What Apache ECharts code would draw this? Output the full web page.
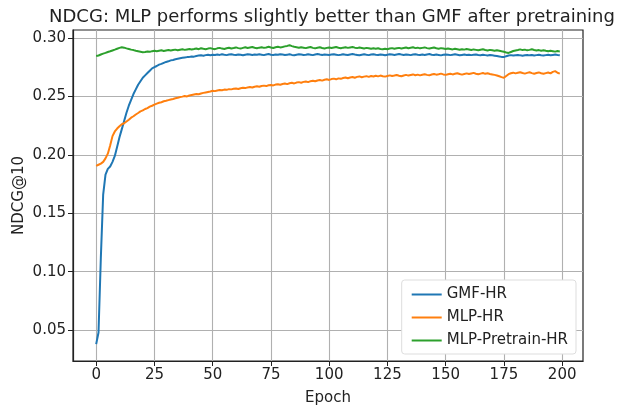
<!DOCTYPE html>
<html>
<head>
<meta charset="utf-8">
<script src="https://cdn.jsdelivr.net/npm/echarts@6/dist/echarts.min.js"></script>
<style>
  html, body { margin: 0; padding: 0; background: #fff; }
  #chart { width: 618px; height: 411px; }
</style>
</head>
<body>
<div id="chart"></div>
<script>
// tick labels
var xTicks = [0, 25, 50, 75, 100, 125, 150, 175, 200];
var yTicks = [0.05, 0.10, 0.15, 0.20, 0.25, 0.30];

var seriesNames = ['GMF-HR', 'MLP-HR', 'MLP-Pretrain-HR'];

// GMF-HR, epochs 0..199
var gmfHR = [
    0.038, 0.048, 0.112, 0.166, 0.183, 0.188, 0.190, 0.194, 0.199, 0.207,
    0.215, 0.222, 0.229, 0.236, 0.242, 0.247, 0.252, 0.256, 0.260, 0.263,
    0.266, 0.268, 0.270, 0.272, 0.274, 0.275, 0.276, 0.2772, 0.2778, 0.2787,
    0.2795, 0.2800, 0.2808, 0.2812, 0.2818, 0.2822, 0.2826, 0.2830, 0.2833, 0.2836,
    0.2838, 0.2842, 0.2840, 0.2846, 0.2849, 0.2851, 0.2848, 0.2853, 0.2856, 0.2852,
    0.2857, 0.2854, 0.2858, 0.2855, 0.2860, 0.2856, 0.2853, 0.2858, 0.2861, 0.2857,
    0.2854, 0.2859, 0.2856, 0.2852, 0.2857, 0.2861, 0.2858, 0.2855, 0.2859, 0.2856,
    0.2860, 0.2857, 0.2853, 0.2858, 0.2862, 0.2857, 0.2854, 0.2859, 0.2856, 0.2861,
    0.2858, 0.2854, 0.2857, 0.2860, 0.2855, 0.2852, 0.2857, 0.2861, 0.2858, 0.2854,
    0.2856, 0.2860, 0.2857, 0.2853, 0.2858, 0.2862, 0.2858, 0.2855, 0.2859, 0.2857,
    0.2854, 0.2858, 0.2861, 0.2857, 0.2853, 0.2856, 0.2860, 0.2857, 0.2854, 0.2858,
    0.2862, 0.2858, 0.2855, 0.2852, 0.2857, 0.2860, 0.2856, 0.2853, 0.2858, 0.2861,
    0.2857, 0.2854, 0.2859, 0.2856, 0.2852, 0.2857, 0.2861, 0.2858, 0.2855, 0.2859,
    0.2862, 0.2858, 0.2855, 0.2859, 0.2856, 0.2853, 0.2858, 0.2861, 0.2857, 0.2854,
    0.2858, 0.2855, 0.2859, 0.2862, 0.2857, 0.2854, 0.2858, 0.2855, 0.2851, 0.2856,
    0.2859, 0.2856, 0.2853, 0.2857, 0.2860, 0.2856, 0.2852, 0.2855, 0.2858, 0.2854,
    0.2857, 0.2853, 0.2856, 0.2859, 0.2855, 0.2852, 0.2856, 0.2853, 0.2850, 0.2854,
    0.2851, 0.2848, 0.2845, 0.2842, 0.2838, 0.2836, 0.2844, 0.2850, 0.2853, 0.2849,
    0.2852, 0.2855, 0.2851, 0.2848, 0.2852, 0.2855, 0.2851, 0.2854, 0.2850, 0.2853,
    0.2856, 0.2852, 0.2849, 0.2853, 0.2856, 0.2852, 0.2855, 0.2858, 0.2854, 0.2851
];

// MLP-HR
var mlpHR = [
    0.1905, 0.1915, 0.1925, 0.1940, 0.1970, 0.2010, 0.2080, 0.2160, 0.2200, 0.2225,
    0.2245, 0.2262, 0.2270, 0.2285, 0.2300, 0.2318, 0.2330, 0.2345, 0.2358, 0.2372,
    0.2380, 0.2392, 0.2400, 0.2412, 0.2420, 0.2430, 0.2438, 0.2445, 0.2450, 0.2458,
    0.2462, 0.2468, 0.2474, 0.2478, 0.2484, 0.2488, 0.2494, 0.2498, 0.2503, 0.2500,
    0.2508, 0.2512, 0.2516, 0.2520, 0.2518, 0.2525, 0.2530, 0.2534, 0.2538, 0.2542,
    0.2548, 0.2545, 0.2551, 0.2555, 0.2552, 0.2558, 0.2556, 0.2562, 0.2560, 0.2565,
    0.2567, 0.2563, 0.2570, 0.2574, 0.2571, 0.2577, 0.2580, 0.2576, 0.2583, 0.2586,
    0.2582, 0.2589, 0.2592, 0.2588, 0.2595, 0.2598, 0.2594, 0.2601, 0.2604, 0.2600,
    0.2606, 0.2610, 0.2605, 0.2612, 0.2616, 0.2611, 0.2618, 0.2622, 0.2617, 0.2624,
    0.2628, 0.2622, 0.2630, 0.2634, 0.2629, 0.2636, 0.2640, 0.2635, 0.2642, 0.2646,
    0.2641, 0.2648, 0.2652, 0.2646, 0.2654, 0.2650, 0.2657, 0.2661, 0.2655, 0.2662,
    0.2666, 0.2660, 0.2667, 0.2671, 0.2664, 0.2669, 0.2673, 0.2667, 0.2674, 0.2670,
    0.2676, 0.2671, 0.2678, 0.2673, 0.2669, 0.2675, 0.2680, 0.2674, 0.2678, 0.2683,
    0.2677, 0.2672, 0.2679, 0.2684, 0.2678, 0.2683, 0.2688, 0.2681, 0.2686, 0.2680,
    0.2685, 0.2690, 0.2684, 0.2680, 0.2687, 0.2692, 0.2686, 0.2690, 0.2695, 0.2688,
    0.2684, 0.2690, 0.2694, 0.2688, 0.2693, 0.2698, 0.2691, 0.2686, 0.2692, 0.2697,
    0.2691, 0.2696, 0.2701, 0.2694, 0.2689, 0.2695, 0.2700, 0.2693, 0.2698, 0.2692,
    0.2688, 0.2684, 0.2679, 0.2672, 0.2665, 0.2660, 0.2675, 0.2690, 0.2698, 0.2703,
    0.2697, 0.2702, 0.2707, 0.2700, 0.2695, 0.2701, 0.2706, 0.2699, 0.2694, 0.2700,
    0.2705, 0.2698, 0.2693, 0.2699, 0.2704, 0.2697, 0.2710, 0.2716, 0.2702, 0.2695
];

// MLP-Pretrain-HR
var mlpPretrainHR = [
    0.2845, 0.2850, 0.2858, 0.2866, 0.2872, 0.2880, 0.2886, 0.2893, 0.2900, 0.2908,
    0.2915, 0.2920, 0.2917, 0.2911, 0.2906, 0.2900, 0.2896, 0.2890, 0.2886, 0.2882,
    0.2878, 0.2880, 0.2884, 0.2881, 0.2887, 0.2891, 0.2886, 0.2890, 0.2894, 0.2889,
    0.2893, 0.2897, 0.2892, 0.2896, 0.2900, 0.2895, 0.2899, 0.2903, 0.2898, 0.2902,
    0.2906, 0.2901, 0.2905, 0.2910, 0.2904, 0.2912, 0.2907, 0.2903, 0.2909, 0.2913,
    0.2908, 0.2904, 0.2911, 0.2915, 0.2909, 0.2906, 0.2912, 0.2916, 0.2910, 0.2914,
    0.2919, 0.2913, 0.2909, 0.2915, 0.2920, 0.2914, 0.2918, 0.2922, 0.2916, 0.2912,
    0.2917, 0.2921, 0.2915, 0.2919, 0.2924, 0.2918, 0.2914, 0.2920, 0.2925, 0.2919,
    0.2923, 0.2928, 0.2932, 0.2938, 0.2930, 0.2924, 0.2920, 0.2916, 0.2921, 0.2917,
    0.2913, 0.2918, 0.2922, 0.2915, 0.2911, 0.2916, 0.2920, 0.2914, 0.2910, 0.2915,
    0.2919, 0.2914, 0.2918, 0.2922, 0.2916, 0.2912, 0.2917, 0.2921, 0.2915, 0.2919,
    0.2923, 0.2917, 0.2913, 0.2918, 0.2914, 0.2910, 0.2915, 0.2911, 0.2907, 0.2912,
    0.2908, 0.2912, 0.2906, 0.2903, 0.2908, 0.2904, 0.2909, 0.2913, 0.2907, 0.2911,
    0.2915, 0.2910, 0.2914, 0.2918, 0.2912, 0.2916, 0.2920, 0.2913, 0.2917, 0.2911,
    0.2915, 0.2919, 0.2913, 0.2909, 0.2914, 0.2918, 0.2912, 0.2908, 0.2913, 0.2909,
    0.2905, 0.2910, 0.2906, 0.2902, 0.2907, 0.2903, 0.2899, 0.2904, 0.2900, 0.2905,
    0.2901, 0.2897, 0.2902, 0.2898, 0.2894, 0.2899, 0.2903, 0.2897, 0.2893, 0.2898,
    0.2894, 0.2890, 0.2895, 0.2891, 0.2886, 0.2882, 0.2876, 0.2872, 0.2880, 0.2888,
    0.2893, 0.2897, 0.2902, 0.2896, 0.2900, 0.2894, 0.2898, 0.2903, 0.2897, 0.2892,
    0.2896, 0.2891, 0.2895, 0.2890, 0.2886, 0.2891, 0.2887, 0.2883, 0.2888, 0.2885
];

var colors = ['#1f77b4', '#ff7f0e', '#2ca02c'];
var font = 'DejaVu Sans';

// [epoch, value] pairs for a value x axis
function toPairs(arr) {
    return arr.map(function(v, i) { return [i, v]; });
}

var allSeries = [gmfHR, mlpHR, mlpPretrainHR].map(function(arr, i) {
    return {
        name: seriesNames[i],
        type: 'line',
        data: toPairs(arr),
        symbol: 'none',
        smooth: false,
        lineStyle: { color: colors[i], width: 2 },
        itemStyle: { color: colors[i] },
        z: 3 + i
    };
});

var option = {
    animation: false,
    color: colors,
    title: {
        text: 'NDCG: MLP performs slightly better than GMF after pretraining',
        left: 327,
        textAlign: 'center',
        top: 3,
        textStyle: { fontFamily: font, fontSize: 18, fontWeight: 'normal', color: '#222' }
    },
    grid: {
        left: 73,
        right: 35,
        top: 30,
        bottom: 49,
        show: true,
        borderColor: '#222',
        borderWidth: 1.2,
        containLabel: false
    },
    legend: {
        data: seriesNames,
        orient: 'vertical',
        right: 42,
        bottom: 57,
        itemWidth: 30,
        itemHeight: 13,
        itemGap: 8,
        padding: [7, 8, 6, 9],
        backgroundColor: '#fff',
        borderColor: '#ddd',
        borderWidth: 1,
        borderRadius: 3,
        // line-only legend icons
        itemStyle: { opacity: 0 },
        textStyle: { fontFamily: font, fontSize: 15, color: '#222' }
    },
    xAxis: {
        type: 'value',
        min: -9.95,
        max: 208.95,
        name: 'Epoch',
        nameLocation: 'middle',
        nameGap: 30,
        nameTextStyle: { fontFamily: font, fontSize: 15, color: '#222' },
        axisLine: { show: true, onZero: false, lineStyle: { color: '#222', width: 1.2 } },
        axisTick: { show: true, length: 5, customValues: xTicks, lineStyle: { color: '#222' } },
        axisLabel: { customValues: xTicks, fontFamily: font, fontSize: 15, color: '#222', margin: 7 },
        splitLine: { show: true, lineStyle: { color: '#b0b0b0', width: 1.1 } }
    },
    yAxis: {
        type: 'value',
        min: 0.0236,
        max: 0.3068,
        name: 'NDCG@10',
        nameLocation: 'middle',
        nameGap: 46,
        nameMoveOverlap: false,
        nameTextStyle: { fontFamily: font, fontSize: 15, color: '#222' },
        axisLine: { show: true, onZero: false, lineStyle: { color: '#222', width: 1.2 } },
        axisTick: { show: true, length: 5, customValues: yTicks, lineStyle: { color: '#222' } },
        axisLabel: {
            customValues: yTicks,
            fontFamily: font, fontSize: 15, color: '#222', margin: 7,
            formatter: function(v) { return v.toFixed(2); }
        },
        splitLine: { show: true, lineStyle: { color: '#b0b0b0', width: 1.1 } }
    },
    series: allSeries
};

var myChart = echarts.init(document.getElementById('chart'));
myChart.setOption(option);
</script>
</body>
</html>
